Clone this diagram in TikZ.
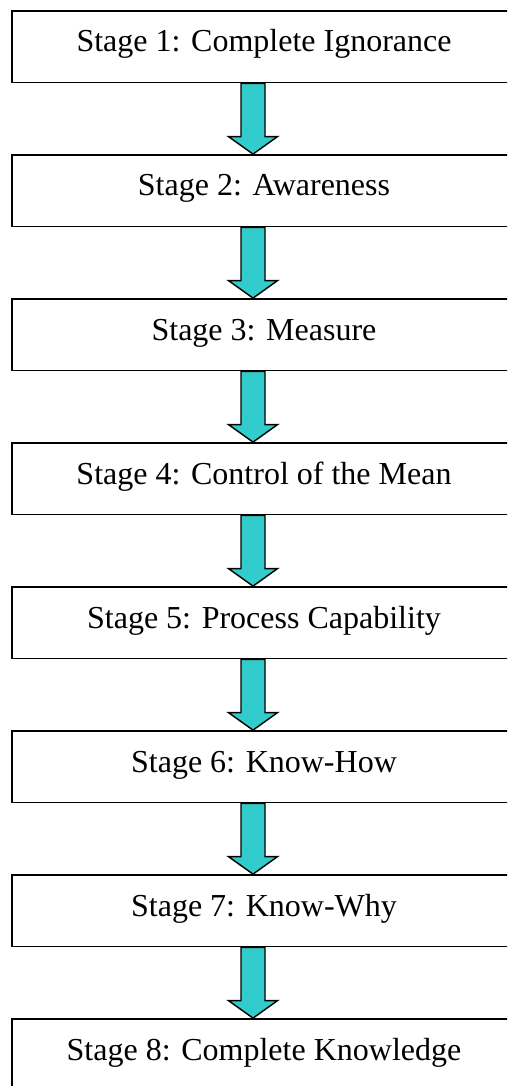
\documentclass[tikz,border=0pt]{standalone}
\usepackage{fontspec}
\setmainfont{Liberation Serif}
\usetikzlibrary{calc}
\definecolor{stageteal}{HTML}{33CCCC}
\begin{document}
\begin{tikzpicture}[x=1pt,y=1pt,
  stagebox/.style={draw=black, line width=1.8pt, rectangle, inner sep=0pt,
    minimum width=504pt, minimum height=71.5pt,
    text height=20pt, text depth=9.5pt,
    font=\fontsize{32}{38}\selectfont},
  stagearrow/.style={draw=black, line width=1.4pt, fill=stageteal, line join=miter}]
\useasboundingbox (0,0) rectangle (507,-1086);
\clip (0,0) rectangle (507,-1086);
% the eight stages, stacked top to bottom
\foreach \i/\txt in {1/Complete Ignorance, 2/Awareness, 3/Measure,
    4/Control of the Mean, 5/Process Capability, 6/Know-How,
    7/Know-Why, 8/Complete Knowledge} {
  \node[stagebox] (s\i) at (264, {-11-144*(\i-1)-35.75}) {Stage \i: \txt};
}
% block arrows between consecutive stages
\foreach \i [evaluate=\i as \j using int(\i+1)] in {1,...,7} {
  \draw[stagearrow] let \p1=(s\i.south), \p2=(s\j.north) in
    (241,\y1) -- (265,\y1) -- (265,\y2+17.5pt) -- (277.5,\y2+17.5pt)
    -- (253,\y2) -- (228.5,\y2+17.5pt) -- (241,\y2+17.5pt) -- cycle;
}
\end{tikzpicture}
\end{document}
